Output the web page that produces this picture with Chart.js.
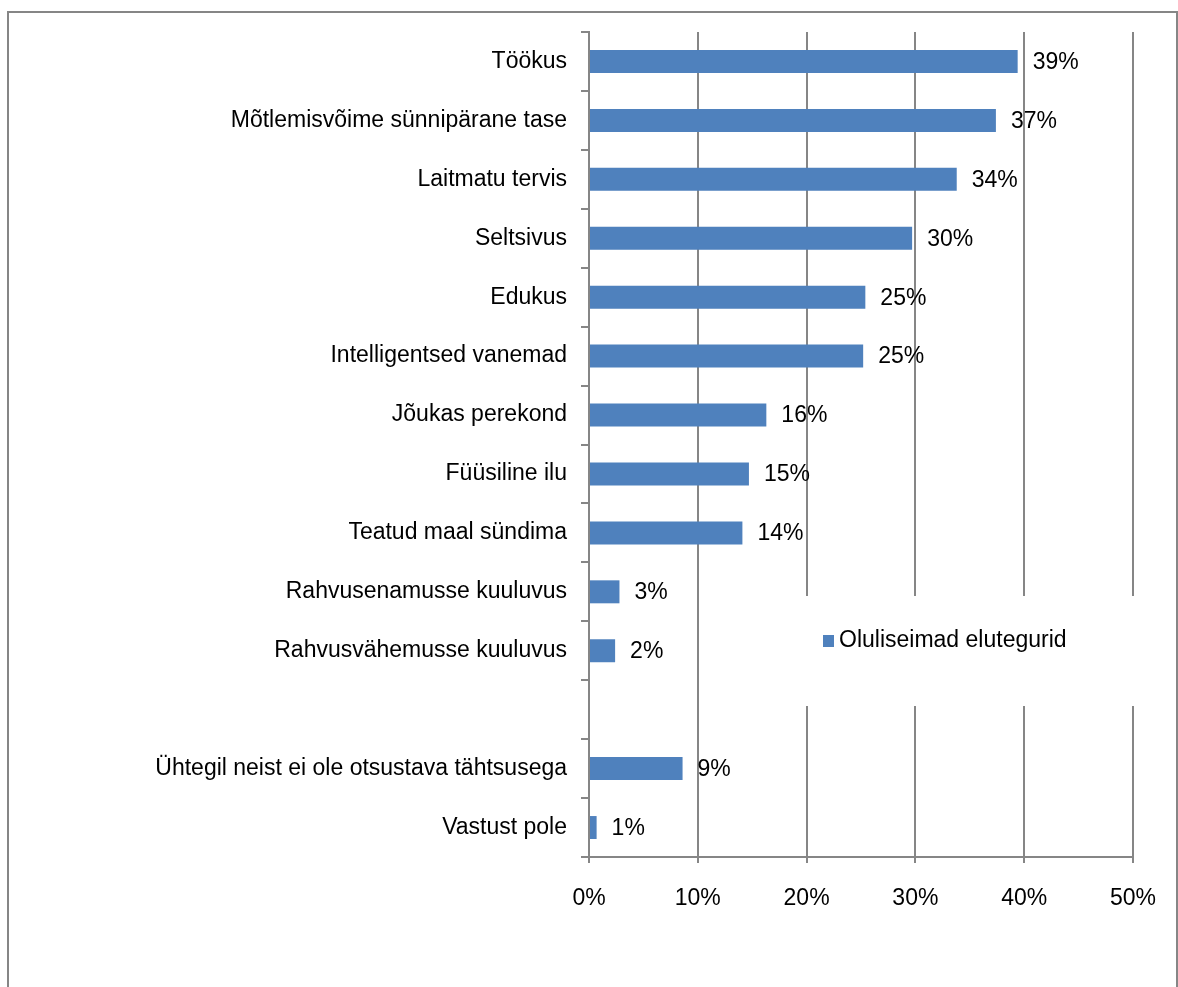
<!DOCTYPE html>
<html><head><meta charset="utf-8">
<script src="https://cdn.jsdelivr.net/npm/chart.js@4"></script>
<style>
html,body{margin:0;padding:0;background:#fff;}
#wrap{position:relative;width:1178px;height:987px;overflow:hidden;}
#frame{position:absolute;left:7px;top:11px;width:1171px;height:1000px;border:2px solid #868686;box-sizing:border-box;}
canvas{position:absolute;left:0;top:0;}
</style></head>
<body><div id="wrap"><div id="frame"></div><canvas id="c" width="1178" height="987"></canvas></div>
<script>
const categories = ["Töökus","Mõtlemisvõime sünnipärane tase","Laitmatu tervis","Seltsivus","Edukus","Intelligentsed vanemad","Jõukas perekond","Füüsiline ilu","Teatud maal sündima","Rahvusenamusse kuuluvus","Rahvusvähemusse kuuluvus","","Ühtegil neist ei ole otsustava tähtsusega","Vastust pole"];
const values = [39.4,37.4,33.8,29.7,25.4,25.2,16.3,14.7,14.1,2.8,2.4,null,8.6,0.7];
const seriesName = "Oluliseimad elutegurid";
const xTicks = [0,10,20,30,40,50];

const FONT = "'Liberation Sans Narrow','Arial Narrow','Liberation Sans',Arial,sans-serif";
const FS = 23;
const GRID = '#868686';
const BAR = '#4F81BD';

const labelPlugin = {
  id:'vals',
  afterDatasetsDraw(chart){
    const ctx = chart.ctx;
    const meta = chart.getDatasetMeta(0);
    ctx.save();
    ctx.font = FS+'px '+FONT;
    ctx.fillStyle = '#000';
    ctx.textAlign='left'; ctx.textBaseline='middle';
    meta.data.forEach((el,i)=>{
      if(values[i]==null) return;
      ctx.fillText(Math.round(values[i])+'%', el.x+15, el.y+1);
    });
    ctx.restore();
  }
};
const legendPlugin = {
  id:'leg',
  afterDraw(chart){
    const ctx = chart.ctx;
    ctx.save();
    ctx.fillStyle='#fff';
    ctx.fillRect(730,596,420,110);
    ctx.fillStyle=BAR;
    ctx.fillRect(823,635,11,12);
    ctx.font = FS+'px '+FONT;
    ctx.fillStyle='#000';
    ctx.textAlign='left'; ctx.textBaseline='middle';
    ctx.fillText(seriesName, 839, 641);
    ctx.restore();
  }
};

new Chart(document.getElementById('c'),{
  type:'bar',
  data:{labels:categories,datasets:[{label:seriesName,data:values,backgroundColor:BAR,borderWidth:0,barPercentage:0.78,categoryPercentage:0.5}]},
  options:{
    indexAxis:'y',responsive:false,animation:false,
    layout:{padding:{top:32,right:44,left:0,bottom:0}},
    plugins:{legend:{display:false},tooltip:{enabled:false}},
    scales:{
      x:{min:0,max:50,
        afterBuildTicks(s){s.ticks = xTicks.map(v=>({value:v}));},
        afterFit(s){s.height = 987-857;},
        grid:{color:GRID,lineWidth:2,tickLength:6,drawTicks:true},
        border:{color:GRID,width:2},
        ticks:{padding:22,color:'#000',font:{family:FONT,size:FS},callback:v=>v+'%'}
      },
      y:{
        afterFit(s){s.width = 589;},
        grid:{drawOnChartArea:false,color:GRID,lineWidth:2,tickLength:8,offset:true},
        border:{color:GRID,width:2},
        ticks:{padding:14,color:'#000',font:{family:FONT,size:FS}}
      }
    }
  },
  plugins:[labelPlugin,legendPlugin]
});
</script></body></html>
